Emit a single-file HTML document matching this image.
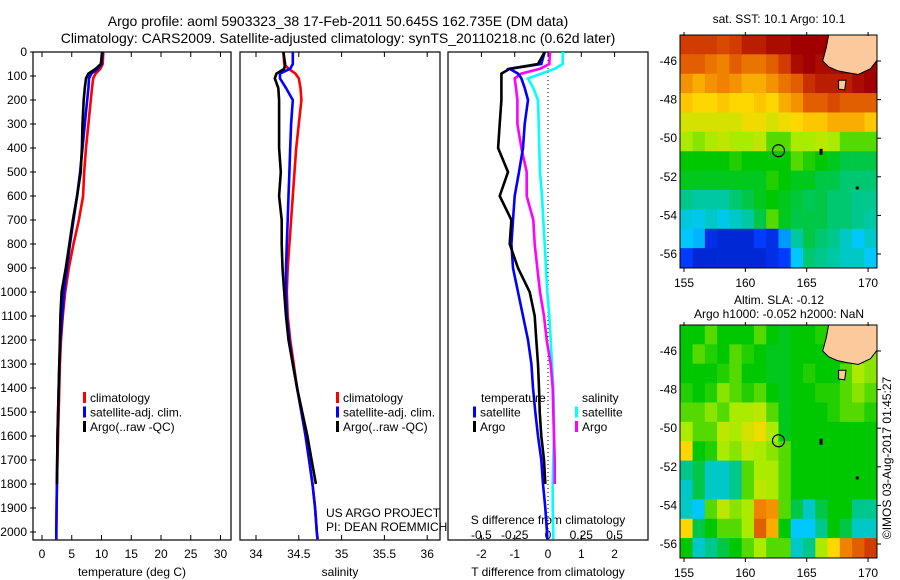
<!DOCTYPE html>
<html><head><meta charset="utf-8"><style>
body{margin:0;background:#fff}
svg{display:block;font-family:"Liberation Sans",sans-serif}
text{fill:#000}
</style></head><body>
<svg id="s" width="900" height="580" viewBox="0 0 900 580" xmlns="http://www.w3.org/2000/svg">
<defs>
<clipPath id="c1"><rect x="33" y="52" width="198" height="488"/></clipPath>
<clipPath id="c2"><rect x="240" y="52" width="200" height="488"/></clipPath>
<clipPath id="c3"><rect x="448" y="52" width="200" height="488"/></clipPath>
<clipPath id="m1"><rect x="680" y="35" width="197" height="233"/></clipPath>
<clipPath id="m2"><rect x="680" y="325" width="197" height="233"/></clipPath>
</defs>
<text x="338" y="26" font-size="14" text-anchor="middle">Argo profile: aoml 5903323_38 17-Feb-2011 50.645S 162.735E (DM data)</text>
<text x="338" y="43" font-size="14" text-anchor="middle">Climatology: CARS2009. Satellite-adjusted climatology: synTS_20110218.nc (0.62d later)</text>
<g id="g"></g>
</svg>
<script>
// ---- data ----
const depths=[0,50,70,90,110,150,200,300,400,500,600,700,800,900,1000,1100,1200,1300,1400,1500,1600,1700,1800,1900,2000,2030];
const tempClim=[10.3,10.2,9.8,9.0,8.6,8.4,8.2,7.8,7.4,7.1,6.9,6.2,5.3,4.5,3.9,3.5,3.2,3.0,2.9,2.8,2.7,2.6,2.5,2.45,2.4,2.4];
const tempSat=[10.2,10.0,9.4,8.3,7.9,7.8,7.6,7.2,6.8,6.4,5.9,5.3,4.7,4.2,3.7,3.4,3.1,2.9,2.8,2.7,2.6,2.55,2.5,2.45,2.4,2.4];
const tempArgo=[10.1,9.9,9.0,7.8,7.4,7.2,7.0,6.8,6.7,6.5,5.9,5.2,4.6,4.0,3.3,3.1,3.0,2.9,2.8,2.7,2.6,2.55,2.5];
const salClim=[34.32,34.33,34.38,34.46,34.50,34.52,34.53,34.50,34.47,34.45,34.43,34.41,34.39,34.37,34.36,34.37,34.40,34.44,34.48,34.53,34.58,34.62,34.66,34.69,34.71,34.72];
const salSat=[34.43,34.43,34.40,34.28,34.28,34.35,34.43,34.41,34.40,34.39,34.38,34.37,34.36,34.35,34.35,34.36,34.39,34.43,34.48,34.53,34.58,34.62,34.66,34.69,34.71,34.72];
const salArgo=[34.32,34.34,34.33,34.24,34.22,34.26,34.27,34.27,34.27,34.29,34.27,34.30,34.30,34.31,34.33,34.35,34.38,34.43,34.48,34.54,34.60,34.65,34.70];
const dTSat=[-0.1,-0.2,-1.15,-0.9,-0.8,-0.7,-0.6,-0.7,-0.75,-0.87,-1.0,-1.05,-1.1,-1.05,-0.9,-0.75,-0.6,-0.5,-0.45,-0.38,-0.3,-0.2,-0.15,-0.08,-0.03,-0.02];
const dTArgo=[-0.1,-0.3,-1.15,-1.4,-1.4,-1.4,-1.4,-1.45,-1.5,-1.2,-1.45,-1.1,-1.15,-0.9,-0.55,-0.4,-0.35,-0.3,-0.27,-0.25,-0.2,-0.12,-0.08];
const dSSat=[0.11,0.11,0.05,-0.05,-0.15,-0.11,-0.075,-0.07,-0.065,-0.06,-0.045,-0.035,-0.025,-0.015,-0.005,0.01,0.02,0.03,0.04,0.045,0.045,0.04,0.035,0.035,0.04,0.04];
const dSArgo=[0.015,0.01,-0.06,-0.2,-0.25,-0.24,-0.23,-0.23,-0.2,-0.16,-0.16,-0.11,-0.1,-0.08,-0.06,-0.03,-0.01,0.02,0.035,0.04,0.045,0.05,0.05];
const depthTicks=[0,100,200,300,400,500,600,700,800,900,1000,1100,1200,1300,1400,1500,1600,1700,1800,1900,2000];
const tempTicks=[0,5,10,15,20,25,30];
const salTicks=[34,34.5,35,35.5,36];
const salTickLabels=["34","34.5","35","35.5","36"];
const dTTicks=[-2,-1,0,1,2];
const dSTicks=[-0.5,-0.25,0,0.25,0.5];
const dSTickLabels=["-0.5","-0.25","0","0.25","0.5"];
const lonTicks=[155,160,165,170];
const latTicks=[-46,-48,-50,-52,-54,-56];
const sstGrid=[
[.9,.9,.9,.88,.9,.95,.95,.98,.98,1,1,1,1,1,1,1],
[.85,.85,.82,.8,.85,.82,.82,.85,.9,.98,1,.98,.98,1,1,1],
[.78,.75,.78,.8,.78,.75,.75,.78,.82,.85,.92,.95,.95,.95,.98,1],
[.72,.7,.7,.72,.7,.7,.72,.7,.75,.78,.85,.85,.88,.85,.85,.85],
[.65,.65,.65,.65,.65,.68,.68,.65,.68,.7,.72,.72,.75,.75,.75,.72],
[.6,.58,.6,.62,.6,.6,.62,.55,.55,.6,.6,.62,.6,.55,.55,.55],
[.5,.5,.5,.5,.52,.5,.5,.5,.5,.55,.52,.5,.48,.45,.45,.45],
[.48,.48,.48,.48,.48,.48,.48,.52,.5,.48,.48,.45,.45,.42,.42,.42],
[.4,.38,.38,.38,.42,.45,.48,.5,.48,.46,.44,.45,.42,.42,.4,.4],
[.33,.32,.35,.32,.35,.38,.45,.55,.48,.45,.45,.45,.42,.42,.4,.38],
[.3,.28,.12,.1,.1,.1,.15,.12,.25,.38,.45,.42,.4,.35,.3,.35],
[.15,.1,.1,.1,.1,.1,.1,.12,.15,.3,.42,.4,.38,.35,.35,.3]];
const slaGrid=[
[.5,.5,.55,.5,.5,.5,.55,.5,.48,.5,.5,.52,.5,.5,.5,.5],
[.5,.55,.52,.5,.55,.52,.5,.48,.48,.5,.5,.5,.5,.5,.55,.58],
[.5,.5,.5,.52,.55,.5,.5,.48,.48,.5,.52,.5,.5,.55,.6,.58],
[.52,.5,.52,.58,.55,.52,.55,.5,.48,.5,.5,.52,.52,.55,.58,.55],
[.55,.55,.58,.55,.6,.6,.62,.55,.48,.5,.5,.5,.52,.55,.55,.52],
[.6,.55,.55,.62,.6,.65,.68,.6,.48,.5,.5,.5,.5,.5,.5,.5],
[.7,.5,.52,.6,.58,.62,.6,.58,.55,.5,.5,.5,.5,.5,.5,.5],
[.4,.45,.35,.35,.4,.55,.6,.6,.55,.5,.5,.5,.5,.5,.5,.5],
[.35,.45,.35,.35,.4,.55,.62,.6,.55,.5,.5,.5,.5,.5,.5,.5],
[.35,.3,.55,.62,.58,.6,.8,.78,.55,.45,.35,.45,.5,.5,.4,.4],
[.7,.45,.5,.55,.55,.6,.85,.75,.5,.3,.3,.4,.5,.45,.35,.35],
[.5,.35,.4,.45,.5,.55,.6,.55,.55,.35,.4,.6,.7,.8,.85,.9]];
const floatLon=162.7, floatLat=-50.65;
const landLon=[166.8,170.8,170.8,170.2,169.2,168.3,167.5,166.8,166.3,166.6];
const landLat=[-44.6,-44.6,-45.9,-46.4,-46.7,-46.6,-46.5,-46.3,-46.0,-45.3];
const isleLon=[167.6,168.2,168.1,167.6];
const isleLat=[-47.0,-47.0,-47.5,-47.45];
// ---- helpers ----
const NS="http://www.w3.org/2000/svg";
const G=document.getElementById('g');
function mk(tag,attrs,parent){const e=document.createElementNS(NS,tag);for(const k in attrs)e.setAttribute(k,attrs[k]);(parent||G).appendChild(e);return e;}
function txt(x,y,s,size,anchor,name,parent){const t=mk('text',{x:x,y:y,'font-size':size,'text-anchor':anchor||'middle'},parent);t.textContent=s;


return t;}
const yD=d=>52+0.24*d;
const xT=v=>42+5.95*v;
const xS=v=>256+85.6*(v-34);
const xdT=v=>548+33.3*v;
const xdS=v=>548+133.2*v;
function line(xs,xf,color,clip,name){let p='';for(let i=0;i<xs.length;i++)p+=(i?'L':'M')+xf(xs[i]).toFixed(1)+','+yD(depths[i]).toFixed(1);
const e=mk('path',{d:p,fill:'none',stroke:color,'stroke-width':2.6,'clip-path':'url(#'+clip+')'});

}
function frame(x,w,name){const r=mk('rect',{x:x,y:52,width:w,height:488,fill:'none',stroke:'#000','stroke-width':1.2});

}
frame(33,198,'temperature-panel');frame(240,200,'salinity-panel');frame(448,200,'difference-panel');
depthTicks.forEach(d=>{mk('line',{x1:30,x2:36,y1:yD(d),y2:yD(d),stroke:'#000'});txt(27,yD(d)+4,String(d),12,'end','depth-tick-label');});
function xticks(ticks,f,labels,name){ticks.forEach((v,i)=>{const x=f(v);mk('line',{x1:x,x2:x,y1:52,y2:57,stroke:'#000'});mk('line',{x1:x,x2:x,y1:535,y2:540,stroke:'#000'});txt(x,558,labels?labels[i]:String(v),12,'middle',name);});}
xticks(tempTicks,xT,null,'temperature-tick-label');
xticks(salTicks,xS,salTickLabels,'salinity-tick-label');
xticks(dTTicks,xdT,null,'t-difference-tick-label');
dSTicks.forEach((v,i)=>txt(xdS(v),539,dSTickLabels[i],12,'middle','s-difference-tick-label'));
txt(132,576,'temperature (deg C)',12,'middle','temperature-axis-title');
txt(340,576,'salinity',12,'middle','salinity-axis-title');
txt(548,576,'T difference from climatology',12,'middle','t-difference-axis-title');
txt(548,524,'S difference from climatology',12,'middle','s-difference-axis-title');
const z=mk('line',{x1:xdT(0),x2:xdT(0),y1:52,y2:540,stroke:'#000','stroke-dasharray':'1,3'});


line(tempClim,xT,'#f00','c1','temp-climatology-line');
line(tempSat,xT,'#00f','c1','temp-satellite-line');
line(tempArgo,xT,'#000','c1','temp-argo-line');
line(salClim,xS,'#f00','c2','sal-climatology-line');
line(salSat,xS,'#00f','c2','sal-satellite-line');
line(salArgo,xS,'#000','c2','sal-argo-line');
line(dSSat,xdS,'#0ff','c3','s-diff-satellite-line');
line(dSArgo,xdS,'#f0f','c3','s-diff-argo-line');
line(dTSat,xdT,'#00f','c3','t-diff-satellite-line');
line(dTArgo,xdT,'#000','c3','t-diff-argo-line');
function leg(x,y,color,s,name){mk('rect',{x:x,y:y-10,width:3,height:11,fill:color});txt(x+7,y,s,12,'start',name);}
[[83,'climatology','#f00'],[83,'satellite-adj. clim.','#00f'],[83,'Argo(..raw -QC)','#000']].forEach((a,i)=>leg(a[0],402+i*14.5,a[2],a[1],'legend-entry'));
[[336,'climatology','#f00'],[336,'satellite-adj. clim.','#00f'],[336,'Argo(..raw -QC)','#000']].forEach((a,i)=>leg(a[0],402+i*14.5,a[2],a[1],'legend-entry'));
txt(481,402,'temperature',12,'start','legend-temperature-heading');
txt(582,402,'salinity',12,'start','legend-salinity-heading');
leg(473,416.5,'#00f','satellite','legend-entry');leg(473,431,'#000','Argo','legend-entry');
leg(575,416.5,'#0ff','satellite','legend-entry');leg(575,431,'#f0f','Argo','legend-entry');
txt(326,517,'US ARGO PROJECT',12,'start','project-credit');
txt(326,531,'PI: DEAN ROEMMICH',12,'start','pi-credit');
// colormap
const cmStops=[[0,0,0,128],[.15,0,60,255],[.3,0,200,255],[.4,0,200,140],[.5,0,200,0],[.6,170,235,0],[.7,255,215,0],[.8,240,130,0],[.9,210,60,0],[1,160,0,0]];
function cmap(v){v=Math.max(0,Math.min(1,v));for(let i=1;i<cmStops.length;i++){const a=cmStops[i-1],b=cmStops[i];if(v<=b[0]){const t=(v-a[0])/(b[0]-a[0]);return 'rgb('+[1,2,3].map(k=>Math.round(a[k]+(b[k]-a[k])*t)).join(',')+')';}}return 'rgb(160,0,0)';}
function map(top,grid,clip,name){
 const xL=v=>684+(v-155)*12.27, yL=v=>top+26+(-46-v)*19.3;
 const gg=mk('g',{'clip-path':'url(#'+clip+')'});
 
 
 grid.forEach((row,r)=>row.forEach((v,c)=>{const lon=154.7+c,lat=-44.65-r*1.0042;
  mk('rect',{x:xL(lon),y:yL(lat),width:12.6,height:19.8,fill:cmap(v)},gg);}));
 const pt=(a,b)=>a.map((v,i)=>xL(v).toFixed(1)+','+yL(b[i]).toFixed(1)).join(' ');
 mk('polygon',{points:pt(landLon,landLat),fill:'#fbc99c',stroke:'#000','stroke-width':1},gg);
 mk('polygon',{points:pt(isleLon,isleLat),fill:'#fbc99c',stroke:'#000','stroke-width':1},gg);
 mk('rect',{x:xL(166.05),y:yL(-50.55),width:3,height:6,fill:'#000'},gg);
 mk('rect',{x:xL(169.0),y:yL(-52.5),width:3,height:3,fill:'#000'},gg);
 const c=mk('circle',{cx:xL(floatLon),cy:yL(floatLat),r:6,fill:'none',stroke:'#000','stroke-width':1.2},gg);
 
 
 mk('rect',{x:680,y:top,width:197,height:233,fill:'none',stroke:'#000','stroke-width':1});
 lonTicks.forEach(v=>{const x=xL(v);mk('line',{x1:x,x2:x,y1:top-3,y2:top+1,stroke:'#000'});mk('line',{x1:x,x2:x,y1:top+233,y2:top+237,stroke:'#000'});txt(x,top+252,String(v),12,'middle','longitude-tick-label');});
 latTicks.forEach(v=>{const y=yL(v);mk('line',{x1:877,x2:881,y1:y,y2:y,stroke:'#000'});txt(677,y+4,String(v),12,'end','latitude-tick-label');});
}
map(35,sstGrid,'m1','sst-map');
map(325,slaGrid,'m2','sla-map');
txt(779,23,'sat. SST: 10.1  Argo: 10.1',12,'middle','sst-map-title');
txt(779,304,'Altim. SLA: -0.12',12,'middle','sla-map-title');
txt(779,318,'Argo h1000: -0.052 h2000: NaN',12,'middle','sla-map-subtitle');
const v=txt(0,0,'©IMOS 03-Aug-2017 01:45:27',12,'middle','timestamp');
v.setAttribute('transform','translate(891,458) rotate(-90)');
</script>
</body></html>
